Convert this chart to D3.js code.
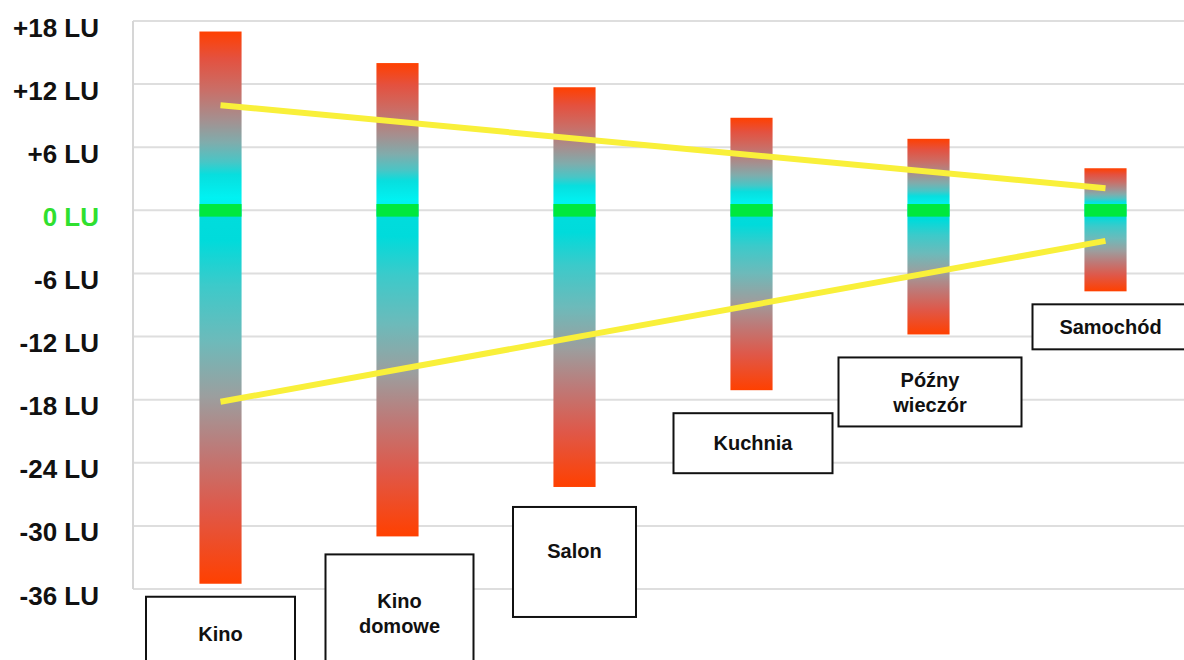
<!DOCTYPE html>
<html>
<head>
<meta charset="utf-8">
<script src="https://cdn.jsdelivr.net/npm/d3@7"></script>
<style>
  html, body { margin: 0; padding: 0; background: #fff; }
  svg { display: block; }
</style>
</head>
<body>
<svg id="chart" width="1184" height="660"></svg>
<script>
// Listening environments and their loudness range (LU relative to target)
const categories = ["Kino", "Kino domowe", "Salon", "Kuchnia", "Późny wieczór", "Samochód"];
const labelLines = [["Kino"], ["Kino", "domowe"], ["Salon"], ["Kuchnia"], ["Późny", "wieczór"], ["Samochód"]];
const maxLU = [17, 14, 11.7, 8.8, 6.8, 4];
const minLU = [-35.5, -31, -26.3, -17.1, -11.8, -7.7];

// Converging range lines, from the first to the last environment
const trendCats = ["Kino", "Samochód"];
const upperTrend = [10, 2.1];
const lowerTrend = [-18.2, -2.9];

// Axis ticks
const tickValues = [18, 12, 6, 0, -6, -12, -18, -24, -30, -36];
const tickLabels = ["+18 LU", "+12 LU", "+6 LU", "0 LU", "-6 LU", "-12 LU", "-18 LU", "-24 LU", "-30 LU", "-36 LU"];

// Layout of the annotation boxes under each bar
const boxLayout = [
  { w: 149, h: 80,  gap: 13, dx: 0,   ty: 37 },
  { w: 148, h: 120, gap: 18, dx: 2,   ty: 59 },
  { w: 123, h: 110, gap: 20, dx: 0,   ty: 44 },
  { w: 159, h: 60,  gap: 23, dx: 1.5, ty: 30 },
  { w: 183, h: 69,  gap: 23, dx: 1.5, ty: 34.5 },
  { w: 156, h: 45,  gap: 13, dx: 5,   ty: 22.5 }
];

const svg = d3.select("#chart");
const W = 1184, H = 660;
const plotLeft = 133, plotRight = 1184, plotTop = 21, plotBottom = 589;

const x = d3.scaleBand().domain(categories).range([132, 1194]).paddingInner(0.762).paddingOuter(0.381);
const y = d3.scaleLinear().domain([-36, 18]).range([plotBottom, plotTop]);

svg.append("rect").attr("width", W).attr("height", H).attr("fill", "#fff");

// Gradients: upper half fades red -> grey -> cyan toward 0, lower half mirrors it
const defs = svg.append("defs");
const upStops = [
  [0, "#ff4000"], [0.15, "#e4513f"], [0.33, "#c96f68"], [0.5, "#a39191"],
  [0.62, "#80acac"], [0.73, "#48c6c6"], [0.8, "#08dede"], [0.93, "#00f2f2"], [1, "#00eeee"]
];
const downStops = [
  [0, "#00dddd"], [0.08, "#00dbdb"], [0.2, "#3ccaca"], [0.35, "#6dbaba"],
  [0.5, "#9c9e9e"], [0.64, "#bd7a78"], [0.8, "#df5849"], [1, "#ff4000"]
];
function addGradient(id, stops) {
  const g = defs.append("linearGradient").attr("id", id)
    .attr("x1", 0).attr("y1", 0).attr("x2", 0).attr("y2", 1);
  stops.forEach(s => g.append("stop").attr("offset", s[0]).attr("stop-color", s[1]));
}
addGradient("gradUp", upStops);
addGradient("gradDown", downStops);

// Gridlines
svg.append("g").selectAll("line").data(tickValues).join("line")
  .attr("x1", plotLeft).attr("x2", plotRight)
  .attr("y1", d => y(d)).attr("y2", d => y(d))
  .attr("stroke", "#dedede").attr("stroke-width", 2);

// Left frame line
svg.append("line")
  .attr("x1", plotLeft).attr("x2", plotLeft)
  .attr("y1", plotTop).attr("y2", plotBottom)
  .attr("stroke", "#d6d6d6").attr("stroke-width", 2);

// Y axis labels
const yAxis = d3.axisLeft(y).tickValues(tickValues)
  .tickFormat((d, i) => tickLabels[i]).tickSize(0).tickPadding(0);
const axisG = svg.append("g").attr("transform", "translate(99,0)").call(yAxis);
axisG.select(".domain").remove();
axisG.selectAll("text")
  .attr("dy", "0.58em")
  .attr("font-family", "'Liberation Sans', Arial, sans-serif")
  .attr("font-weight", "bold")
  .attr("font-size", 26)
  .attr("fill", d => d === 0 ? "#2fe02f" : "#111");

// Bars
const data = categories.map((c, i) => ({ c, max: maxLU[i], min: minLU[i] }));
const bars = svg.append("g");
bars.selectAll("rect.up").data(data).join("rect").attr("class", "up")
  .attr("x", d => x(d.c)).attr("width", x.bandwidth())
  .attr("y", d => y(d.max)).attr("height", d => y(0) - y(d.max))
  .attr("fill", "url(#gradUp)");
bars.selectAll("rect.down").data(data).join("rect").attr("class", "down")
  .attr("x", d => x(d.c)).attr("width", x.bandwidth())
  .attr("y", y(0)).attr("height", d => y(d.min) - y(0))
  .attr("fill", "url(#gradDown)");
bars.selectAll("rect.zero").data(data).join("rect").attr("class", "zero")
  .attr("x", d => x(d.c)).attr("width", x.bandwidth())
  .attr("y", y(0.6)).attr("height", y(-0.6) - y(0.6))
  .attr("fill", "#00e83e");

// Trend lines
const cx = c => x(c) + x.bandwidth() / 2;
const line = d3.line().x(d => cx(d[0])).y(d => y(d[1]));
[upperTrend, lowerTrend].forEach(vals => {
  svg.append("path")
    .datum(trendCats.map((c, i) => [c, vals[i]]))
    .attr("d", line)
    .attr("fill", "none")
    .attr("stroke", "#f9f03a")
    .attr("stroke-width", 6);
});

// Annotation boxes
const boxes = svg.append("g");
data.forEach((d, i) => {
  const L = boxLayout[i];
  const bx = cx(d.c) + L.dx - L.w / 2;
  const by = y(d.min) + L.gap;
  boxes.append("rect")
    .attr("x", bx).attr("y", by).attr("width", L.w).attr("height", L.h)
    .attr("fill", "#fff").attr("stroke", "#111").attr("stroke-width", 2);
  const lines = labelLines[i];
  const lh = 25;
  const t = boxes.append("text")
    .attr("x", bx + L.w / 2)
    .attr("text-anchor", "middle")
    .attr("font-family", "'Liberation Sans', Arial, sans-serif")
    .attr("font-weight", "bold")
    .attr("font-size", 20)
    .attr("fill", "#111");
  lines.forEach((s, k) => {
    t.append("tspan")
      .attr("x", bx + L.w / 2)
      .attr("y", by + L.ty + (k - (lines.length - 1) / 2) * lh)
      .attr("dy", "0.36em")
      .text(s);
  });
});
</script>
</body>
</html>
